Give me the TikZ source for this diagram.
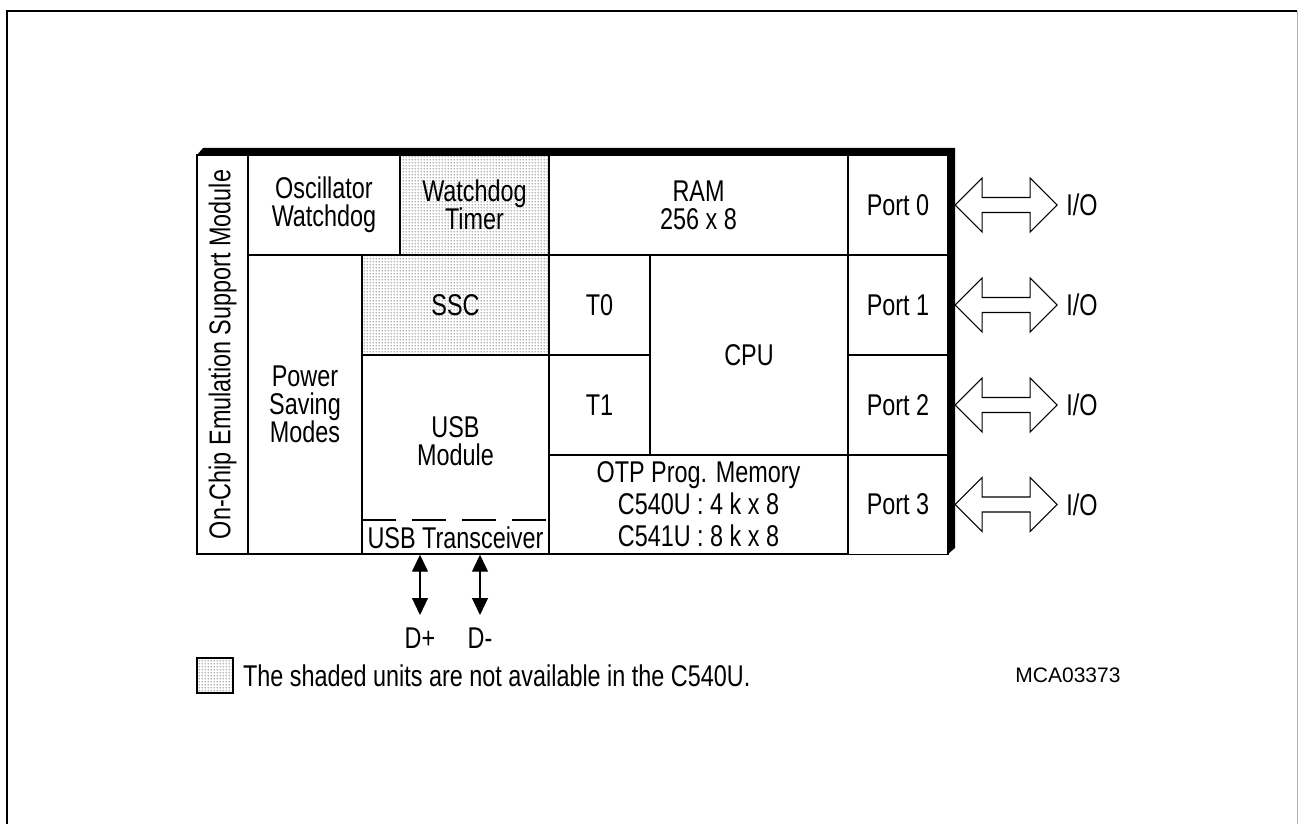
\documentclass[tikz,border=0pt]{standalone}
\usepackage{fontspec}
\setmainfont{Liberation Sans}[FakeStretch=0.78]
\newfontfamily\codefont{Liberation Sans}
\usetikzlibrary{arrows.meta,positioning,patterns}
\pgfdeclarepatternformonly{finedots}{\pgfpointorigin}{\pgfpoint{1.5pt}{1.5pt}}{\pgfpoint{1.5pt}{1.5pt}}{\pgfpathcircle{\pgfpoint{0.75pt}{0.75pt}}{0.34pt}\pgfusepath{fill}}

\begin{document}
\begin{tikzpicture}[x=0.5pt,y=-0.5pt,>=Latex,
  font=\fontsize{15}{14}\selectfont,
  blk/.style={draw,line width=0.7pt,inner sep=0pt,align=center},
  shaded/.style={pattern=finedots,pattern color=black!80},
  dbus/.style={{Triangle[length=8.5pt,width=8pt]}-{Triangle[length=8.5pt,width=8pt]},line width=0.6pt},
  ioarrow/.style={draw,line width=0.6pt,fill=white}]
  \useasboundingbox (0,0) rectangle (1298,824);
  \draw[line width=1pt] (7,824) -- (7,11) -- (1297,11);
  \draw[black!30,line width=0.5pt] (1297.5,11) -- (1297.5,824);

  \fill (197,155) -- (203,148) -- (955,148) -- (955,548) -- (948,554) -- (948,155) -- cycle;

  \node[blk,rotate=90,minimum width=199.5pt,minimum height=25.5pt] (emu) at (222.5,354.5) {On-Chip Emulation Support Module};
  \node[blk,minimum width=76pt,minimum height=50pt] (osc) at (324,205) {Oscillator\\Watchdog};
  \node[blk,shaded,minimum width=74.5pt,minimum height=50pt] (wdt) at (474.5,205) {Watchdog\\Timer};
  \node[blk,minimum width=149.5pt,minimum height=50pt] (ram) at (698.5,205) {RAM\\256 x 8};
  \node[blk,minimum width=57pt,minimum height=149.5pt] (pwr) at (305,404.5) {Power\\Saving\\Modes};
  \node[blk,shaded,minimum width=93.5pt,minimum height=50pt] (ssc) at (455.5,305) {SSC};
  \node[blk,minimum width=93.5pt,minimum height=99.5pt] (usb) at (455.5,454.5) {};
  \node[align=center] (usbtxt) at (455.5,441) {USB\\Module};
  \node (xcvr) at (455.5,538) {USB Transceiver};
  \draw[line width=0.6pt,dash pattern=on 16.75pt off 8.25pt] (362,520) -- (549,520);
  \node[blk,minimum width=50.5pt,minimum height=50pt] (t0) at (599.5,305) {T0};
  \node[blk,minimum width=50.5pt,minimum height=50pt] (t1) at (599.5,405) {T1};
  \node[blk,minimum width=99pt,minimum height=100pt] (cpu) at (749,355) {CPU};
  \node[blk,minimum width=149.5pt,minimum height=49.5pt,font=\fontsize{15}{16}\selectfont] (otp) at (698.5,504.5) {OTP Prog. Memory\\C540U : 4 k x 8\\C541U : 8 k x 8};

  \foreach \i/\y in {0/205,1/305,2/405,3/504.5} {
    \node[blk,minimum width=50pt,minimum height=50pt] (p\i) at (898,\y) {Port \i};
    \node (io\i) at (1082,\y) {I/O};
    \draw[ioarrow] ([xshift=3.2pt]p\i.east) -- ++(27,-27) -- ++(0,19.5) -- ++(48,0) -- ++(0,-19.5) -- ++(27,27) -- ++(-27,27) -- ++(0,-19.5) -- ++(-48,0) -- ++(0,19.5) -- cycle;
  }

  \node[anchor=north,inner sep=2pt] (dp) at (420,623) {D+};
  \node[anchor=north,inner sep=2pt] (dm) at (480,623) {D-};
  \draw[dbus] (dp.north |- usb.south) -- ([yshift=4pt]dp.north);
  \draw[dbus] (dm.north |- usb.south) -- ([yshift=4pt]dm.north);

  \node[draw,line width=0.6pt,shaded,minimum width=18pt,minimum height=17.5pt,inner sep=0pt] (key) at (215,675.5) {};
  \node[right=1.2pt of key] (keytxt) {The shaded units are not available in the C540U.};
  \node[font=\codefont\fontsize{10.5}{12}\selectfont] (docid) at (1068,675) {MCA03373};
\end{tikzpicture}
\end{document}
